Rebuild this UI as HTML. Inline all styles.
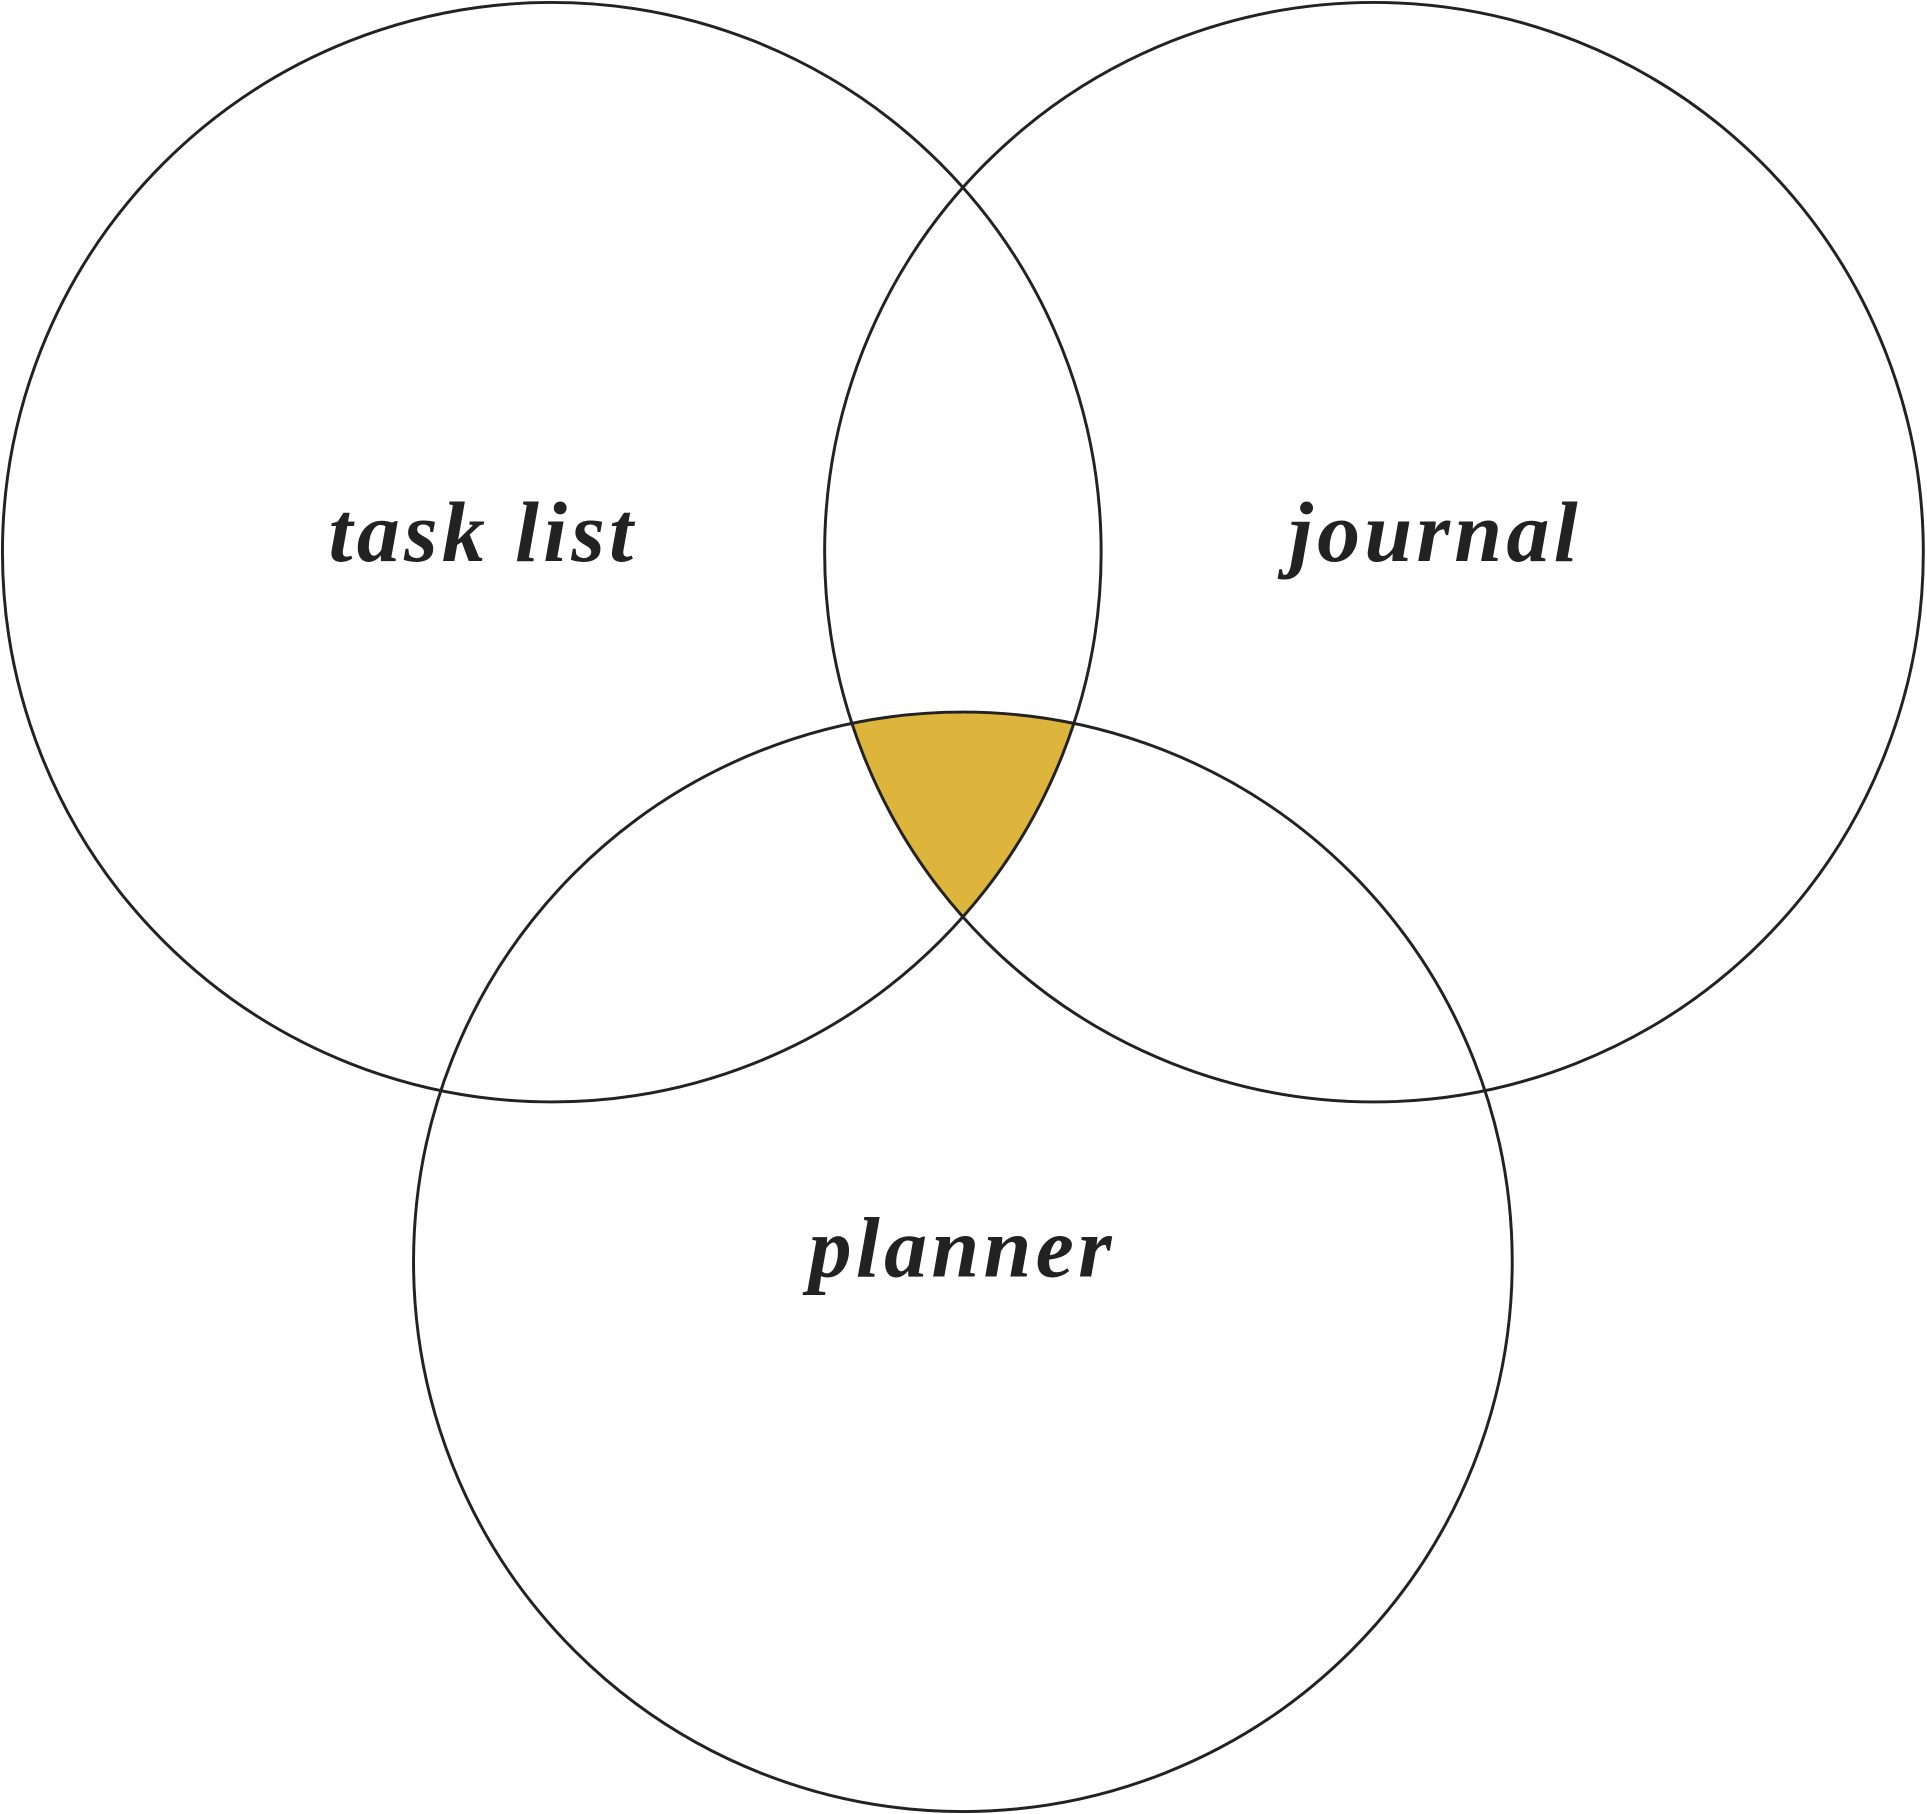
<!DOCTYPE html>
<html><head><meta charset="utf-8"><style>html,body{margin:0;padding:0;background:#fff;}svg{display:block}</style></head>
<body>
<svg width="1927" height="1814" viewBox="0 0 1568 1475" preserveAspectRatio="none" xmlns="http://www.w3.org/2000/svg">
<defs>
<clipPath id="a"><circle cx="449" cy="449" r="447"/></clipPath>
<clipPath id="b"><circle cx="1118" cy="449" r="447"/></clipPath>
</defs>
<rect width="1568" height="1475" fill="#fff"/>
<g clip-path="url(#a)"><g clip-path="url(#b)"><circle cx="783.5" cy="1026" r="447" fill="#DDB53C"/></g></g>
<g fill="none" stroke="#222" stroke-width="2.4">
<circle cx="449" cy="449" r="447"/>
<circle cx="1118" cy="449" r="447"/>
<circle cx="783.5" cy="1026" r="447"/>
</g>
<g font-family="'Liberation Serif', serif" font-style="italic" font-weight="bold" font-size="70" fill="#222" text-anchor="middle" letter-spacing="3.5">
<text x="393" y="456">task list</text>
<text x="1168" y="456">journal</text>
<text x="783" y="1038">planner</text>
</g>
</svg>
</body></html>
